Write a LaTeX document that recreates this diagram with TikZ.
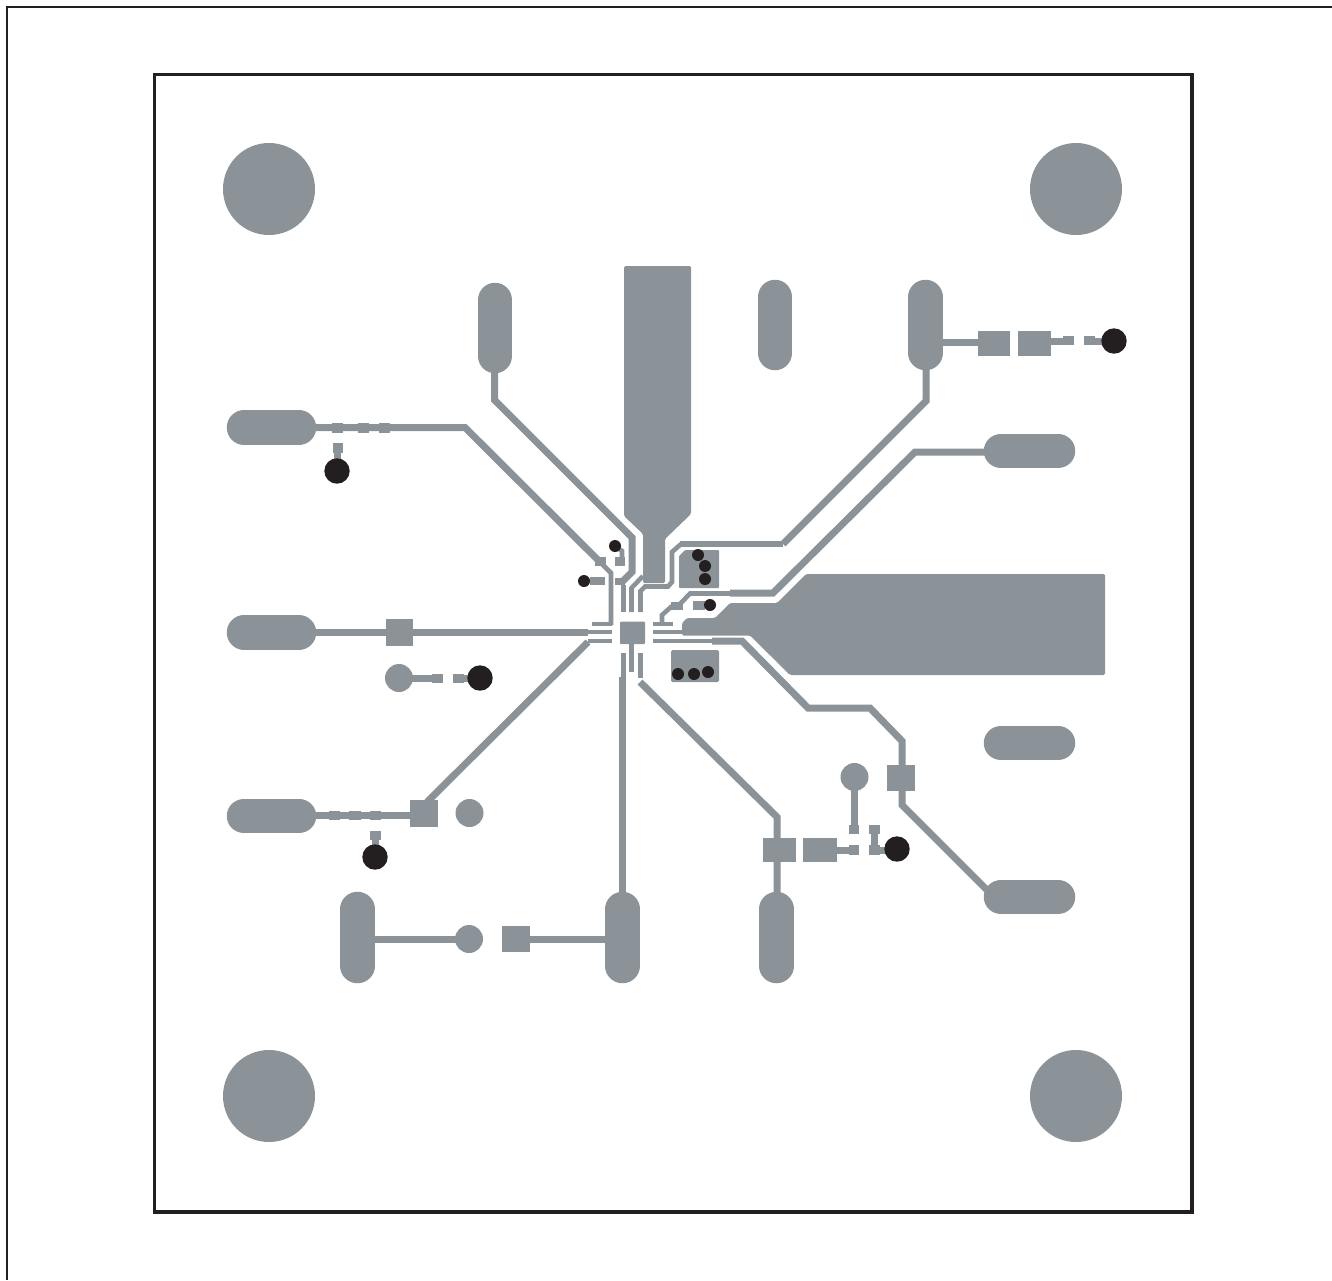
\documentclass[tikz,border=0pt]{standalone}
\definecolor{copper}{HTML}{8B9298}
\definecolor{viaink}{HTML}{231F20}
\tikzset{
  trace/.style={draw=copper,line width=7pt,line join=miter},
  pin/.style={draw=copper,line width=4.6pt},
  oblong/.style={draw=copper,line width=34.5pt,line cap=round},
  via/.style={fill=viaink},
}
\newcommand{\padbox}[4]{\fill[copper] (#1,#3) rectangle (#2,#4);}
\begin{document}
\begin{tikzpicture}[x=1pt,y=-1pt]
\useasboundingbox (0,0) rectangle (1332,1280);
% frames
\draw[line width=2pt,viaink] (1332,7) -- (7,7) -- (7,1280);
\draw[line width=3.6pt,viaink,line join=miter] (154.5,74.5) rectangle (1192,1212);
% mounting holes
\foreach \x/\y in {269/189,1076/189,269/1096,1076/1096}
  \fill[copper] (\x,\y) circle[radius=46];
% oblong pads
\foreach \x/\ya/\yb in {495/300/356,775/297/353,925.5/297/353,357.5/909/966,622.5/909/966,776.5/909/966}
  \draw[oblong] (\x,\ya) -- (\x,\yb);
\foreach \xa/\xb/\y in {244/299/427.5,244/299/632.5,244/299/816,1001/1058/451,1001/1058/743,1001/1058/897}
  \draw[oblong] (\xa,\y) -- (\xb,\y);
% large copper planes
\fill[copper,rounded corners=1.5pt] (624,266) -- (691,266) -- (691,514) -- (665,539) -- (665,583)
  -- (643,583) -- (643,534) -- (624,516) -- cycle;
\fill[copper,rounded corners=1.5pt] (1105,574) -- (1105,675) -- (790,675) -- (750,635.5) -- (682,635.5)
  -- (682,623) -- (687,618) -- (715,618) -- (730,603) -- (777,603) -- (806,574) -- cycle;
\fill[copper,rounded corners=1pt] (685,550) -- (719,550) -- (719,588) -- (679,588) -- (679,556) -- cycle;
\fill[copper,rounded corners=1.5pt] (671,650) rectangle (719,682);
% centre pad and pins
\fill[copper,rounded corners=1pt] (620,621.5) rectangle (645,644);
\draw[pin] (588,632) -- (612,632);
\draw[pin] (588,641) -- (612,641);
\draw[pin] (592,624) -- (612,624);
\draw[pin] (653,624) -- (673,624);
\draw[pin] (653,632) -- (684,632);
\draw[pin] (653,641) -- (673,641);
\draw[pin] (623.5,612) -- (623.5,585);
\draw[pin] (631.5,612) -- (631.5,588) -- (643,576);
\draw[pin] (623.5,653) -- (623.5,678);
\draw[pin] (631.5,644) -- (631.5,672);
\draw[pin] (640.5,653) -- (640.5,678);
% traces, top side
\draw[trace] (494.5,365) -- (494.5,400) -- (632,537.5) -- (632,572) -- (622,582);
\draw[trace] (316,427.5) -- (465,427.5) -- (600,562);
\draw[pin] (600,562) -- (611,573) -- (611,625);
\draw[pin] (640.5,612) -- (640.5,591) -- (645,586.5) -- (668,586.5) -- (672,582) -- (672,552) -- (681,544);
\draw[trace,line width=5.6pt] (680,544) -- (783,544);
\draw[trace] (783,544) -- (926,401) -- (926,365);
\draw[pin] (662,624) -- (662,615) -- (672,606);
\draw[pin] (680,604) -- (690,593.5) -- (735,593.5);
\draw[trace] (730,593) -- (773,593) -- (915,452) -- (990,452);
\draw[pin] (673,641) -- (715,641);
\draw[trace] (712,641) -- (742,641) -- (808,708) -- (870,708) -- (902,741) -- (902,805) -- (990,893);
% traces, left side
\draw[trace] (316,632.5) -- (588,632.5);
\draw[trace] (588,642) -- (427,802);
\draw[trace] (316,815.5) -- (415,815.5);
% traces, bottom side
\draw[trace] (622.5,677) -- (622.5,900);
\draw[trace] (640,682) -- (777,817) -- (777,900);
\draw[trace] (375,939) -- (469,939);
\draw[trace] (520,939) -- (606,939);
% square pads
\padbox{386}{413}{619}{646}
\padbox{410}{438}{800}{827}
\padbox{502}{530}{926}{952}
\padbox{887}{915}{765}{791}
\padbox{763}{796}{838}{862}
\padbox{803}{837}{838}{862}
\padbox{978}{1010}{331}{356}
\padbox{1018}{1051}{331}{356}
\draw[trace] (940,342) -- (980,342);
% small pads
\foreach \xa/\xb/\ya/\yb in {332/343/423/433,358/369/423/433,379/390/423/433,333/343/443/453,
    329/340/811/820,349/361/811/820,370/381/811/820,370/381/831/840,
    432/443/674/683,453/464/674/683,
    849/859/825/834,849/859/845/855,869/880/845/855,869/880/825/834,
    1063/1074/336/345,1084/1095/336/345,
    615/625/557/566,615/625/578/585,590/605/577/585,595/606/557/566,
    671/683/602/610,693/705/601/610}
  \padbox{\xa}{\xb}{\ya}{\yb}
% stubs to vias and test points
\draw[trace] (337.5,450) -- (337.5,465);
\draw[trace] (375.5,838) -- (375.5,850);
\draw[trace] (399,678.5) -- (435,678.5);
\draw[trace] (455,678.5) -- (475,678.5);
\draw[trace] (854.5,777) -- (854.5,830);
\draw[trace] (835,850) -- (852,850);
\draw[trace] (874.5,830) -- (874.5,850) -- (895,850);
\draw[trace] (1050,341) -- (1066,341);
\draw[trace] (1090,341) -- (1108,341);
\draw[pin] (622,558) -- (622,551) -- (615,546);
% test points
\foreach \x/\y in {399/678,469.5/813,854.5/777,469/939}
  \fill[copper] (\x,\y) circle[radius=14];
% vias
\foreach \x/\y in {337/471,375/857,480/678,897/849,1114/341}
  \fill[via] (\x,\y) circle[radius=12.7];
\foreach \x/\y in {615/546,584/581,710/605,698/555,705/566,705/579,678/674,694/674,708/672}
  \fill[via] (\x,\y) circle[radius=6];
\end{tikzpicture}
\end{document}
